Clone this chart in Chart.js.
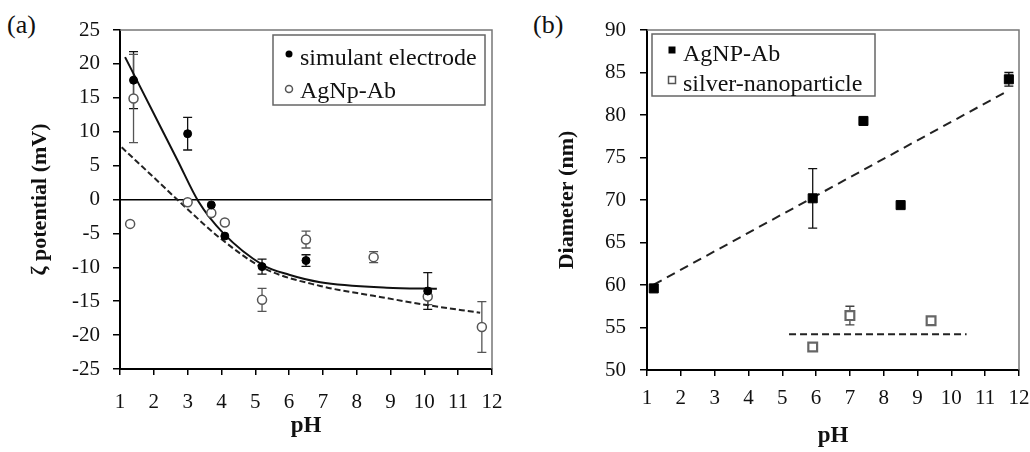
<!DOCTYPE html>
<html>
<head>
<meta charset="utf-8">
<script src="https://cdn.jsdelivr.net/npm/chart.js@4.4.1/dist/chart.umd.min.js"></script>
<style>
  html, body { margin: 0; padding: 0; background: #fff; }
  body { width: 1030px; height: 452px; position: relative; overflow: hidden; font-family: "Liberation Serif", "Times New Roman", serif; }
  canvas { position: absolute; top: 0; }
  .panel { position: absolute; font-size: 26px; line-height: 26px; color: #111; }
</style>
</head>
<body>
<div class="panel" style="left:7px; top:12px;">(a)</div>
<div class="panel" style="left:533px; top:12px;">(b)</div>
<canvas id="c1" width="515" height="452" style="left:0px"></canvas>
<canvas id="c2" width="515" height="452" style="left:515px"></canvas>
<script>
// ---------- Panel (a): zeta potential vs pH ----------
const phSim    = [1.4, 3.0, 3.7, 4.1, 5.2, 6.5, 10.1];
const zetaSim  = [17.6, 9.7, -0.8, -5.4, -9.9, -9.0, -13.5];
const errSim   = [4.2, 2.4, 0, 0, 1.1, 0.85, 2.7];

const phAgAb   = [1.3, 1.4, 3.0, 3.7, 4.1, 5.2, 6.5, 8.5, 10.1, 11.7];
const zetaAgAb = [-3.6, 14.9, -0.4, -2.0, -3.4, -14.8, -5.9, -8.5, -14.3, -18.8];
const errAgAb  = [0, 6.5, 0, 0, 0, 1.7, 1.25, 0.8, 1.2, 3.75];

// trend curves
const fitSimX  = [1.15, 2.2, 2.7, 3.32, 4.06, 5.24, 6.0, 6.92, 8.89, 10.37];
const fitSimY  = [21.0, 10.7, 5.8, -0.3, -5.0, -9.7, -11.1, -12.2, -13.0, -13.15];
const fitAgX   = [1.05, 2.0, 2.97, 3.96, 5.24, 6.92, 8.5, 10.07, 11.65];
const fitAgY   = [7.7, 3.25, -1.3, -5.7, -10.1, -12.75, -14.2, -15.56, -16.7];

const labelsA  = ['simulant electrode', 'AgNp-Ab'];

// ---------- Panel (b): diameter vs pH ----------
const phAbD    = [1.2, 5.9, 7.4, 8.5, 11.7];
const diamAb   = [59.6, 70.2, 79.3, 69.4, 84.2];
const errAbD   = [0, 3.5, 0, 0, 0.8];

const phNp     = [5.9, 7.0, 9.4];
const diamNp   = [52.7, 56.4, 55.8];
const errNp    = [0.5, 1.1, 0.3];

const fitAbX   = [1.2, 11.7];
const fitAbY   = [60.05, 82.9];
const fitNpX   = [5.2, 10.45];
const fitNpY   = [54.2, 54.2];

const labelsB  = ['AgNP-Ab', 'silver-nanoparticle'];

// ticks
const xTicks = { min: 1, max: 12, step: 1 };
const yTicksA = { min: -25, max: 25, step: 5 };
const yTicksB = { min: 50, max: 90, step: 5 };

const pts = (xs, ys) => xs.map((x, i) => ({ x: x, y: ys[i] }));
const SERIF = '"Liberation Serif", "Times New Roman", serif';

function drawMarker(ctx, style, filled, x, y, r) {
  ctx.beginPath();
  if (style === 'circle') ctx.arc(x, y, r, 0, Math.PI * 2);
  else ctx.rect(x - r, y - r, 2 * r, 2 * r);
  if (filled) { ctx.fillStyle = '#000'; ctx.fill(); }
  else { ctx.fillStyle = '#fff'; ctx.fill(); ctx.strokeStyle = '#555'; ctx.lineWidth = 1.5; ctx.stroke(); }
}

const decor = {
  id: 'decor',
  beforeDatasetsDraw(chart, args, opts) {
    const { ctx, chartArea: a, scales: { x, y } } = chart;
    ctx.save();
    // top/right frame
    ctx.strokeStyle = '#777'; ctx.lineWidth = 1.5;
    ctx.beginPath();
    ctx.moveTo(a.left, a.top); ctx.lineTo(a.right, a.top); ctx.lineTo(a.right, a.bottom);
    ctx.stroke();
    // error bars
    chart.data.datasets.forEach(ds => {
      if (!ds.err) return;
      ctx.strokeStyle = ds.errColor; ctx.lineWidth = 1.3;
      ds.data.forEach((p, i) => {
        const e = ds.err[i]; if (!e) return;
        const px = x.getPixelForValue(p.x);
        const y1 = y.getPixelForValue(p.y + e), y2 = y.getPixelForValue(p.y - e);
        ctx.beginPath();
        ctx.moveTo(px, y1); ctx.lineTo(px, y2);
        ctx.moveTo(px - 4.5, y1); ctx.lineTo(px + 4.5, y1);
        ctx.moveTo(px - 4.5, y2); ctx.lineTo(px + 4.5, y2);
        ctx.stroke();
      });
    });
    ctx.restore();
  },
  afterDraw(chart, args, opts) {
    const lg = opts.legend; if (!lg) return;
    const { ctx } = chart;
    ctx.save();
    ctx.fillStyle = '#fff';
    ctx.fillRect(lg.box[0], lg.box[1], lg.box[2] - lg.box[0], lg.box[3] - lg.box[1]);
    ctx.strokeStyle = '#666'; ctx.lineWidth = 1.5;
    ctx.strokeRect(lg.box[0], lg.box[1], lg.box[2] - lg.box[0], lg.box[3] - lg.box[1]);
    lg.items.forEach(it => {
      const ds = chart.data.datasets[it.ds];
      drawMarker(ctx, it.style, it.filled, it.mx, it.my, it.r);
      ctx.fillStyle = '#111';
      ctx.font = '24px ' + SERIF;
      ctx.textBaseline = 'alphabetic';
      ctx.textAlign = 'left';
      ctx.fillText(ds.label, it.tx, it.ty);
    });
    ctx.restore();
  }
};

function makeOptions(cfg) {
  return {
    responsive: false,
    animation: false,
    events: [],
    devicePixelRatio: 1,
    layout: { padding: { top: 30, right: cfg.padRight, bottom: 0, left: 0 } },
    plugins: {
      legend: { display: false },
      tooltip: { enabled: false },
      decor: { legend: cfg.legend }
    },
    scales: {
      x: {
        type: 'linear',
        min: xTicks.min, max: xTicks.max,
        ticks: { stepSize: xTicks.step, color: '#111', font: { family: SERIF, size: 21 }, padding: cfg.xPad, maxRotation: 0, autoSkip: false },
        grid: { drawOnChartArea: false, color: '#000', tickColor: '#000', tickLength: 6, lineWidth: 1.5 },
        border: { display: true, color: '#000', width: 2 },
        title: { display: true, text: 'pH', color: '#111', font: { family: SERIF, size: 23, weight: 'bold' }, padding: { top: 0, bottom: cfg.xTitlePad } },
        afterFit(s) { s.height = cfg.xHeight; s.paddingLeft = 0; s.paddingRight = 0; }
      },
      y: {
        type: 'linear',
        min: cfg.yT.min, max: cfg.yT.max,
        ticks: { stepSize: cfg.yT.step, color: '#111', font: { family: SERIF, size: 21 }, padding: cfg.yPad },
        grid: {
          drawOnChartArea: true,
          color: c => (cfg.zeroLine && c.tick && c.tick.value === 0) ? '#000' : 'rgba(0,0,0,0)',
          tickColor: '#000', tickLength: 7, lineWidth: 1.5
        },
        border: { display: true, color: '#000', width: 2 },
        title: { display: true, text: cfg.yTitle, color: '#111', font: { family: SERIF, size: 22, weight: 'bold' }, padding: { top: cfg.yTitlePad, bottom: 0 } },
        afterFit(s) { s.width = cfg.yWidth; s.paddingTop = 0; s.paddingBottom = 0; }
      }
    }
  };
}

// ---- chart (a)
new Chart(document.getElementById('c1'), {
  type: 'scatter',
  data: {
    datasets: [
      { label: labelsA[0], data: pts(phSim, zetaSim), err: errSim, errColor: '#111',
        pointStyle: 'circle', pointRadius: 4, backgroundColor: '#000', borderColor: '#000', borderWidth: 1, showLine: false },
      { label: labelsA[1], data: pts(phAgAb, zetaAgAb), err: errAgAb, errColor: '#555',
        pointStyle: 'circle', pointRadius: 4.5, backgroundColor: '#fff', borderColor: '#555', borderWidth: 1.5, showLine: false },
      { label: 'fit simulant', data: pts(fitSimX, fitSimY), showLine: true, pointRadius: 0,
        borderColor: '#111', borderWidth: 2, cubicInterpolationMode: 'monotone', fill: false },
      { label: 'fit AgNp-Ab', data: pts(fitAgX, fitAgY), showLine: true, pointRadius: 0,
        borderColor: '#222', borderWidth: 2, borderDash: [6, 3], cubicInterpolationMode: 'monotone', fill: false }
    ]
  },
  options: makeOptions({
    padRight: 23, xHeight: 83, yWidth: 120, xPad: 15, yPad: 13, xTitlePad: 12, yTitlePad: 27,
    yT: yTicksA, yTitle: 'ζ potential (mV)', zeroLine: true,
    legend: {
      box: [273, 35, 485, 105],
      items: [
        { ds: 0, style: 'circle', filled: true, mx: 289, my: 54, r: 3.5, tx: 300, ty: 65 },
        { ds: 1, style: 'circle', filled: false, mx: 289, my: 89, r: 3.5, tx: 300, ty: 98 }
      ]
    }
  }),
  plugins: [decor]
});

// ---- chart (b)
new Chart(document.getElementById('c2'), {
  type: 'scatter',
  data: {
    datasets: [
      { label: labelsB[0], data: pts(phAbD, diamAb), err: errAbD, errColor: '#111',
        pointStyle: 'rect', pointRadius: 6.4, backgroundColor: '#000', borderColor: '#000', borderWidth: 1, showLine: false },
      { label: labelsB[1], data: pts(phNp, diamNp), err: errNp, errColor: '#444',
        pointStyle: 'rect', pointRadius: 6.2, backgroundColor: '#fff', borderColor: '#666', borderWidth: 2.2, showLine: false },
      { label: 'fit AgNP-Ab', data: pts(fitAbX, fitAbY), showLine: true, pointRadius: 0,
        borderColor: '#222', borderWidth: 2, borderDash: [9, 6], fill: false },
      { label: 'fit silver', data: pts(fitNpX, fitNpY), showLine: true, pointRadius: 0,
        borderColor: '#222', borderWidth: 2, borderDash: [7, 4], fill: false }
    ]
  },
  options: makeOptions({
    padRight: 11, xHeight: 82, yWidth: 132, xPad: 10, yPad: 14, xTitlePad: 2, yTitlePad: 39,
    yT: yTicksB, yTitle: 'Diameter (nm)', zeroLine: false,
    legend: {
      box: [137, 34, 360, 96],
      items: [
        { ds: 0, style: 'rect', filled: true, mx: 157, my: 50, r: 3.5, tx: 168, ty: 61 },
        { ds: 1, style: 'rect', filled: false, mx: 157, my: 80, r: 3.5, tx: 168, ty: 91 }
      ]
    }
  }),
  plugins: [decor]
});
</script>
</body>
</html>
